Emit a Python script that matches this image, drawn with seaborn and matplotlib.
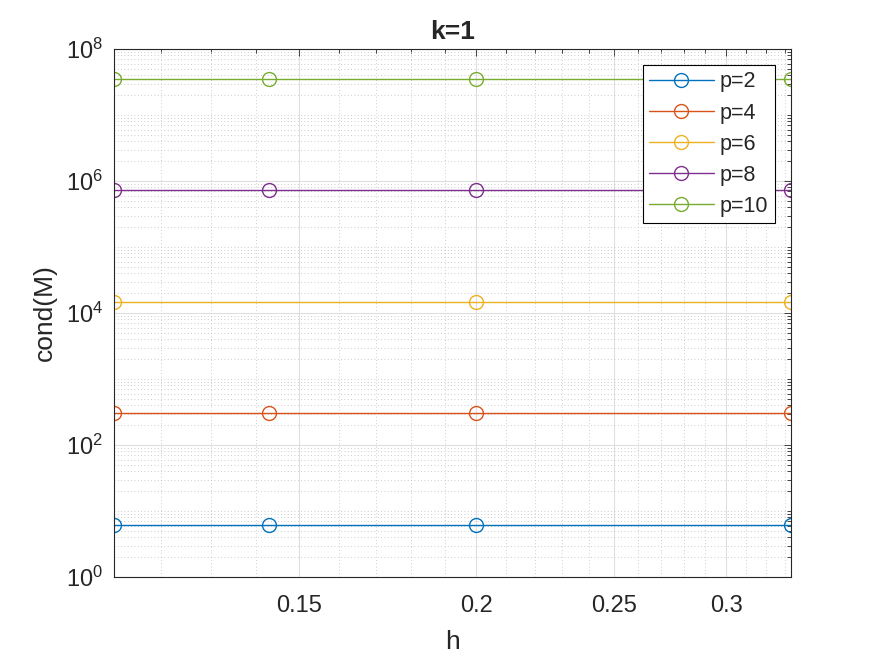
import numpy as np
import pandas as pd
import matplotlib
matplotlib.use("Agg")
import matplotlib.pyplot as plt
import matplotlib.ticker as mticker
import seaborn as sns

# data
h_values = [1/3, 1/5, 1/7, 1/9]
h_values_p6 = [1/3, 1/5, 1/9]   # p=6 has no marker at h=1/7
cond_p2 = [6.1, 6.1, 6.1, 6.1]
cond_p4 = [305, 305, 305, 305]
cond_p6 = [1.47e4, 1.47e4, 1.47e4]
cond_p8 = [7.2e5, 7.2e5, 7.2e5, 7.2e5]
cond_p10 = [3.55e7, 3.55e7, 3.55e7, 3.55e7]
series_labels = ["p=2", "p=4", "p=6", "p=8", "p=10"]
colors = ["#0072BD", "#D95319", "#EDB120", "#7E2F8E", "#77AC30"]

x_ticks = [0.15, 0.2, 0.25, 0.3]
x_tick_labels = ["0.15", "0.2", "0.25", "0.3"]

sns.set_style("white")
plt.rcParams['font.family'] = ['Liberation Sans', 'DejaVu Sans']
plt.rcParams['mathtext.fontset'] = 'custom'
plt.rcParams['mathtext.rm'] = 'Liberation Sans'
plt.rcParams['mathtext.it'] = 'Liberation Sans:italic'

fig = plt.figure(figsize=(8.75, 6.56), dpi=100)
ax = fig.add_axes([114/875, 79/656, 677/875, 528/656])

all_h = [h_values, h_values, h_values_p6, h_values, h_values]
all_cond = [cond_p2, cond_p4, cond_p6, cond_p8, cond_p10]
for hx, cy, lab, col in zip(all_h, all_cond, series_labels, colors):
    df = pd.DataFrame({"h": hx, "cond": cy})
    sns.lineplot(data=df, x="h", y="cond", ax=ax, color=col, label=lab,
                 marker="o", markersize=10, markerfacecolor="none",
                 markeredgecolor=col, markeredgewidth=1.0, linewidth=1.0)

ax.set_xscale("log")
ax.set_yscale("log")
ax.set_xlim(1/9, 1/3)
ax.set_ylim(1, 1e8)

ax.xaxis.set_major_locator(mticker.FixedLocator(x_ticks))
ax.xaxis.set_major_formatter(mticker.FixedFormatter(x_tick_labels))
ax.xaxis.set_minor_locator(mticker.FixedLocator(
    [v / 100 for v in range(11, 34) if v not in (15, 20, 25, 30)]))
ax.xaxis.set_minor_formatter(mticker.NullFormatter())

ax.yaxis.set_major_locator(mticker.FixedLocator([1e0, 1e2, 1e4, 1e6, 1e8]))
ax.yaxis.set_major_formatter(mticker.LogFormatterSciNotation())
ax.yaxis.set_minor_locator(mticker.LogLocator(base=10, subs=np.arange(1, 10), numticks=20))
ax.yaxis.set_minor_formatter(mticker.NullFormatter())

ax.grid(True, which="major", color="#DFDFDF", linewidth=0.8, linestyle="-")
ax.grid(True, which="minor", color="#BDBDBD", linewidth=0.6, linestyle=(0, (1, 3)))
ax.set_axisbelow(True)

for s in ax.spines.values():
    s.set_color("#262626")
    s.set_linewidth(0.8)
ax.tick_params(which="both", direction="in", top=True, right=True,
               colors="#262626", labelsize=17, width=0.6)
ax.tick_params(which="major", length=5)
ax.tick_params(which="minor", length=3)
ax.tick_params(axis="x", which="major", pad=13)
ax.tick_params(axis="y", which="major", pad=8)

ax.set_xlabel("h", fontsize=19, color="#262626", labelpad=9)
ax.set_ylabel("cond(M)", fontsize=19, color="#262626", labelpad=6)
ax.set_title("k=1", fontsize=19, fontweight="bold", pad=7)

leg = ax.legend(loc="upper right", bbox_to_anchor=(661/677, 1 - 16/528), fontsize=15.5,
                frameon=True, fancybox=False, framealpha=1, edgecolor="black",
                handlelength=3, handletextpad=0.3, labelspacing=0.47,
                borderpad=0.3, borderaxespad=0)
leg.get_frame().set_linewidth(0.8)

fig.savefig("out.png", dpi=100)
